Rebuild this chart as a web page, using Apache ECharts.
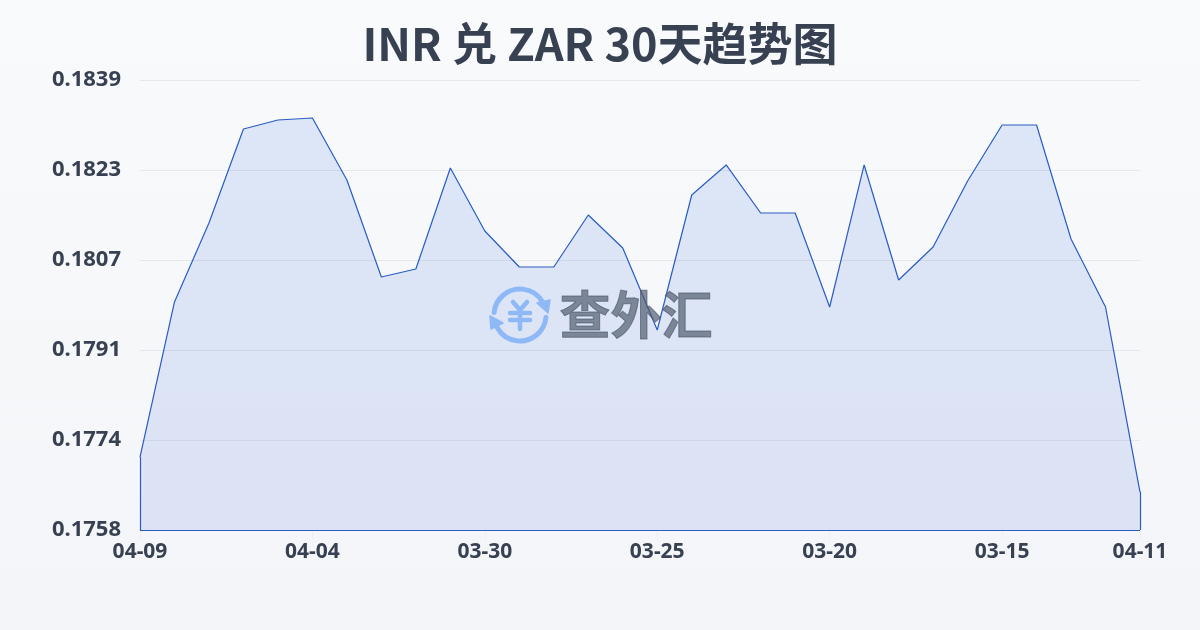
<!DOCTYPE html>
<html><head><meta charset="utf-8">
<style>html,body{margin:0;padding:0;width:1200px;height:630px;overflow:hidden}#c{width:1200px;height:630px}</style>
<script src="https://cdn.jsdelivr.net/npm/echarts@6/dist/echarts.min.js"></script>
</head><body><div id="c"></div>
<script>
const titleText = 'INR 兑 ZAR 30天趋势图';
const dates = ['04-09','04-08','04-07','04-06','04-05','04-04','04-03','04-02','04-01','03-31','03-30','03-29','03-28','03-27','03-26','03-25','03-24','03-23','03-22','03-21','03-20','03-19','03-18','03-17','03-16','03-15','03-14','03-13','03-12','04-11'];
const rates = [0.177120,0.179924,0.181352,0.183053,0.183215,0.183252,0.182130,0.180376,0.180520,0.182347,0.181208,0.180557,0.180557,0.181497,0.180900,0.179417,0.181859,0.182402,0.181533,0.181533,0.179833,0.182402,0.180322,0.180918,0.182112,0.183125,0.183125,0.181063,0.179833,0.176487];
const yMin = 0.1758;
const yStep = yMin / 108;
const yMax = yMin + 5 * yStep;
const labelEvery = 5;
const inkColor = '#374151', lineColor = '#2a5cc4', iconColor = '#8fb8f6', markColor = 'rgba(75,85,105,0.66)';
const last = dates.length - 1;
const showTick = i => i % labelEvery === 0 || i === last;
const edge = (a, b) => [a, b];
const chart = echarts.init(document.getElementById('c'), null, {renderer:'canvas'});
const stroke = {stroke: iconColor, lineWidth: 5, lineCap: 'round', lineJoin: 'round', fill: 'none'};
chart.setOption({
  animation:false,
  backgroundColor:{type:'linear',x:0,y:0,x2:0,y2:1,colorStops:[{offset:0,color:'#f8fafc'},{offset:1,color:'#f3f5f8'}]},
  title:{text:titleText,left:'center',top:16,textStyle:{fontFamily:'"Noto Sans CJK SC","Noto Sans",sans-serif',fontSize:45,fontWeight:'bold',color:inkColor}},
  grid:{left:140,right:60,top:80,bottom:100,containLabel:false},
  xAxis:{type:'category',data:dates,boundaryGap:false,
    axisLine:{show:false},
    axisTick:{show:true,interval:showTick,length:9,lineStyle:{color:'#eceef1'}},
    axisLabel:{interval:showTick,margin:12,fontSize:21,fontWeight:'bold',color:inkColor,showMinLabel:true,showMaxLabel:true,hideOverlap:false,fontFamily:'"Noto Sans","Noto Sans CJK SC",sans-serif'},
    splitLine:{show:false}},
  yAxis:{type:'value',min:yMin,max:yMax,interval:yStep,
    axisLine:{show:false},axisTick:{show:false},
    axisLabel:{margin:19,fontSize:22,fontWeight:'bold',color:inkColor,formatter:v=>v.toFixed(4),fontFamily:'"Noto Sans","Noto Sans CJK SC",sans-serif'},
    splitLine:{lineStyle:{color:'#e5e7eb',width:1}}},
  series:[{type:'line',data:rates,symbol:'none',smooth:false,clip:false,
    lineStyle:{color:lineColor,width:1.2},
    areaStyle:{color:{type:'linear',x:0,y:0,x2:0,y2:1,colorStops:[{offset:0,color:'rgba(59,115,225,0.2)'},{offset:1,color:'rgba(50,95,210,0.18)'}]}},
    markLine:{silent:true,symbol:'none',label:{show:false},animation:false,lineStyle:{color:lineColor,width:1.2,type:'solid'},
      data:[
        edge({xAxis:dates[0],yAxis:rates[0]},{xAxis:dates[0],yAxis:yMin}),
        edge({xAxis:dates[0],yAxis:yMin},{xAxis:dates[last],yAxis:yMin}),
        edge({xAxis:dates[last],yAxis:yMin},{xAxis:dates[last],yAxis:rates[last]})
      ]}
  }],
  graphic:[
    {type:'arc',z:50,shape:{cx:520,cy:315,r:26,startAngle:-Math.PI*0.97,endAngle:-Math.PI*0.16,clockwise:true},style:stroke},
    {type:'arc',z:50,shape:{cx:520,cy:315,r:26,startAngle:Math.PI*0.03,endAngle:Math.PI*0.84,clockwise:true},style:stroke},
    {type:'polygon',z:50,shape:{points:[[537,303],[550,300],[548,313]]},style:{fill:iconColor,stroke:iconColor,lineWidth:1.5,lineJoin:'round'}},
    {type:'polygon',z:50,shape:{points:[[490,316],[503,323],[491,329]]},style:{fill:iconColor,stroke:iconColor,lineWidth:1.5,lineJoin:'round'}},
    {type:'polyline',z:50,shape:{points:[[513,302],[520,310],[527,302]]},style:Object.assign({},stroke,{lineWidth:4.5})},
    {type:'line',z:50,shape:{x1:510,y1:313,x2:530,y2:313},style:Object.assign({},stroke,{lineWidth:4.5})},
    {type:'line',z:50,shape:{x1:510,y1:320,x2:530,y2:320},style:Object.assign({},stroke,{lineWidth:4.5})},
    {type:'line',z:50,shape:{x1:520,y1:310,x2:520,y2:329},style:Object.assign({},stroke,{lineWidth:4.5})},
    {type:'text',z:50,left:559,top:289,style:{text:'查外汇',fill:markColor,stroke:markColor,lineWidth:1,font:'700 51px "Noto Sans CJK SC"'}}
  ]
});
</script></body></html>
